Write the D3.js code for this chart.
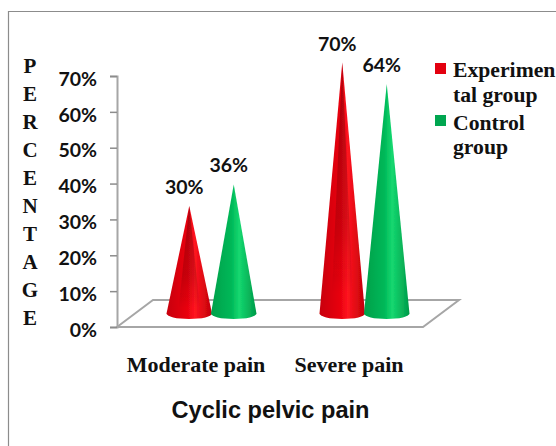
<!DOCTYPE html>
<html>
<head>
<meta charset="utf-8">
<script src="https://cdn.jsdelivr.net/npm/d3@7"></script>
<style>
    html, body { margin: 0; padding: 0; background: #fff; overflow: hidden; }
    .serif { font-family: "Liberation Serif", serif; font-weight: bold; fill: #111; }
    .num { font-family: Lato, "Open Sans", sans-serif; font-weight: bold; font-size: 19.5px; fill: #111; }
</style>
</head>
<body>
<div class="chart1"></div>
<script>
// values
var categories = ["Moderate pain", "Severe pain"];
var groups = ["Experimental group", "Control group"];
var experimental = [30, 70];
var control = [36, 64];
var yTicks = [0, 10, 20, 30, 40, 50, 60, 70];
var axisLetters = ["P", "E", "R", "C", "E", "N", "T", "A", "G", "E"];
var legendLines = [["Experimen", "tal group"], ["Control", "group"]];

var width = 556, height = 446;
var depthX = 36, depthY = 27;   // shift of the floor back edge

var svg = d3.select(".chart1").append("svg")
    .attr("width", width)
    .attr("height", height);

var defs = svg.append("defs");

function coneGradient(id, edgeL, mid, edgeR) {
    var g = defs.append("linearGradient").attr("id", id);
    g.append("stop").attr("offset", "0%").attr("stop-color", edgeL);
    g.append("stop").attr("offset", "45%").attr("stop-color", mid[0]);
    g.append("stop").attr("offset", "62%").attr("stop-color", mid[1]);
    g.append("stop").attr("offset", "100%").attr("stop-color", edgeR);
}
coneGradient("redCone", "#c8000c", ["#e8000e", "#ff1420"], "#c00008");
coneGradient("greenCone", "#00a04a", ["#00b858", "#14d870"], "#009a48");

var shade = defs.append("linearGradient").attr("id", "coneShade")
    .attr("x1", 0).attr("y1", 0).attr("x2", 0).attr("y2", 1);
shade.append("stop").attr("offset", "0%").attr("stop-color", "#300").attr("stop-opacity", 0.35);
shade.append("stop").attr("offset", "60%").attr("stop-color", "#300").attr("stop-opacity", 0.18);
shade.append("stop").attr("offset", "90%").attr("stop-color", "#300").attr("stop-opacity", 0);

defs.append("filter").attr("id", "soft")
    .append("feGaussianBlur").attr("stdDeviation", 0.6);

// frame, only left and top show in the crop
svg.append("path")
    .attr("d", "M8.5," + height + "V11.5H" + width)
    .attr("fill", "none")
    .attr("stroke", "#8c8c8c")
    .attr("stroke-width", 1.2);

var y = d3.scaleLinear()
    .domain([0, 70])
    .range([327, 76]);

var x0 = d3.scaleBand()
    .domain(categories)
    .range([117 + depthX / 2, 423 + depthX / 2]);

var x1 = d3.scaleBand()
    .domain(groups)
    .range([0, x0.bandwidth()])
    .paddingOuter(0.72);

// floor
var floor = d3.path();
floor.moveTo(117, y(0));
floor.lineTo(117 + depthX, y(0) - depthY);
floor.lineTo(423 + depthX, y(0) - depthY);
floor.lineTo(423, y(0));
floor.closePath();
svg.append("path")
    .attr("d", floor.toString())
    .attr("fill", "#fff")
    .attr("stroke", "#a6a6a6")
    .attr("stroke-width", 2);

// y axis
var yAxis = svg.append("g")
    .attr("transform", "translate(117,0)")
    .call(d3.axisLeft(y)
        .tickValues(yTicks)
        .tickSize(7)
        .tickPadding(13)
        .tickFormat(function (d) { return d + "%"; }));
yAxis.select(".domain").attr("stroke", "#a6a6a6").attr("stroke-width", 2);
yAxis.selectAll(".tick line").attr("stroke", "#8c8c8c").attr("stroke-width", 1.5);
yAxis.selectAll("text")
    .attr("class", "num")
    .attr("dy", "0.47em")
    .attr("fill", "#111");

// cones
function conePath(cx, halfWidth, value) {
    var baseY = y(0) - depthY / 2;
    var tipY = y(value) - depthY / 2;
    return "M" + (cx - halfWidth) + "," + baseY +
        "L" + cx + "," + tipY +
        "L" + (cx + halfWidth) + "," + baseY +
        "A" + halfWidth + ",5.5 0 0 1 " + (cx - halfWidth) + "," + baseY + "Z";
}

var series = [
    { name: groups[0], values: experimental, fill: "url(#redCone)", shaded: true },
    { name: groups[1], values: control, fill: "url(#greenCone)", shaded: false }
];

categories.forEach(function (c, i) {
    series.forEach(function (s) {
        var cx = x0(c) + x1(s.name) + x1.bandwidth() / 2;
        var d = conePath(cx, x1.bandwidth() / 2 + 0.5, s.values[i]);
        svg.append("path")
            .attr("d", d)
            .attr("fill", s.fill)
            .attr("filter", "url(#soft)");
        if (s.shaded) {
            svg.append("path")
                .attr("d", conePath(cx, x1.bandwidth() / 4, s.values[i]))
                .attr("fill", "url(#coneShade)")
                .attr("filter", "url(#soft)");
        }
        svg.append("text")
            .attr("class", "num")
            .attr("x", cx - 5)
            .attr("y", y(s.values[i]) - depthY / 2 - 12)
            .attr("text-anchor", "middle")
            .text(s.values[i] + "%");
    });
});

// category labels
svg.selectAll(".cat")
    .data(categories)
    .enter().append("text")
    .attr("class", "serif cat")
    .attr("x", function (d) { return x0(d) + x0.bandwidth() / 2 - 15.5; })
    .attr("y", 372)
    .attr("text-anchor", "middle")
    .style("font-size", "22px")
    .text(function (d) { return d; });

// axis title, one letter per row
svg.selectAll(".letter")
    .data(axisLetters)
    .enter().append("text")
    .attr("class", "serif letter")
    .attr("x", 30)
    .attr("y", function (d, i) { return 73 + i * 28; })
    .attr("text-anchor", "middle")
    .style("font-size", "21px")
    .text(function (d) { return d; });

svg.append("text")
    .attr("x", 270.5)
    .attr("y", 418)
    .attr("text-anchor", "middle")
    .style("font-family", "Liberation Sans")
    .style("font-weight", "bold")
    .style("font-size", "23.6px")
    .attr("fill", "#111")
    .text("Cyclic pelvic pain");

// legend
var legendColors = ["#e3000f", "#00a650"];
var legendY = [63, 115];
var lineY = [[77, 102], [130, 154]];
legendLines.forEach(function (lines, i) {
    svg.append("rect")
        .attr("x", 435)
        .attr("y", legendY[i])
        .attr("width", 11)
        .attr("height", 11)
        .attr("fill", legendColors[i]);
    lines.forEach(function (t, j) {
        svg.append("text")
            .attr("class", "serif")
            .attr("x", 453)
            .attr("y", lineY[i][j])
            .style("font-size", "21.7px")
            .text(t);
    });
});
</script>
</body>
</html>
